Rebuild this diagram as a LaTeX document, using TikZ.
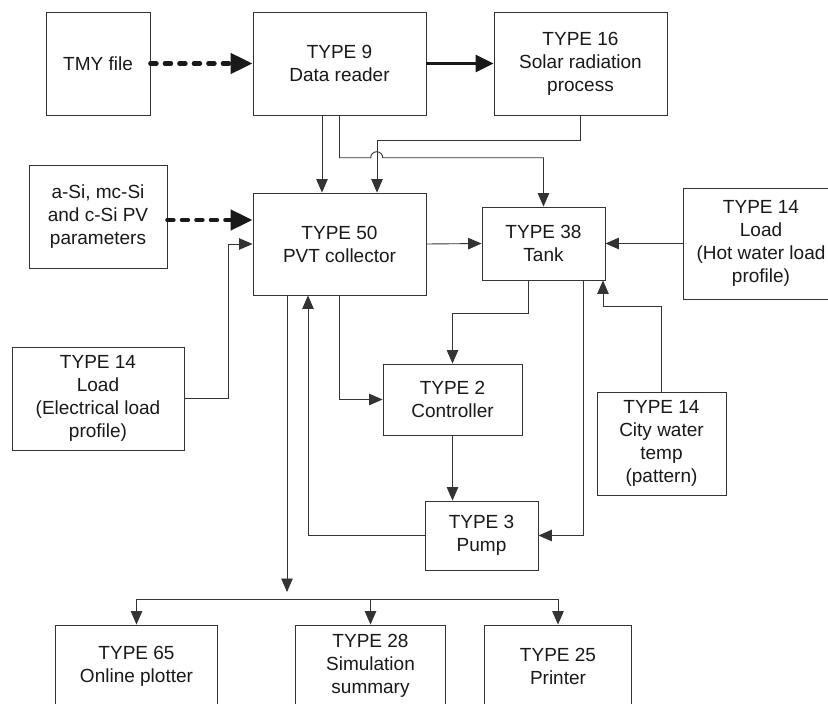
\documentclass[tikz,border=0pt]{standalone}
\usepackage{fontspec}
\setmainfont{Liberation Sans}
\usetikzlibrary{arrows.meta,calc}
\definecolor{ln}{rgb}{0.2,0.2,0.2}
\tikzset{
  box/.style={draw=ln, line width=0.9pt, inner sep=0pt, align=center,
    font=\fontsize{19}{23}\selectfont, text=black!90},
  conn/.style={draw=ln, line width=0.9pt, -{Triangle[length=13.5pt,width=11.5pt]}},
  plain/.style={draw=ln, line width=0.9pt},
  dotarrow/.style={draw=black!90, line width=4.5pt, line cap=round,
    dash pattern=on 6pt off 8.5pt,
    -{Triangle[length=22pt,width=20pt,line cap=butt]}},
  thickarrow/.style={draw=black!90, line width=2.6pt,
    -{Triangle[length=18pt,width=17pt]}}
}
\begin{document}
\begin{tikzpicture}[x=1pt,y=-1pt]
\fill[white] (0,0) rectangle (828,704);
\useasboundingbox (0,0) rectangle (828,704);

\node[box, minimum width=104pt, minimum height=103pt] (tmy) at (98,63.5) {TMY file};
\node[box, minimum width=173pt, minimum height=103pt] (t9) at (339.5,63.5) {TYPE 9\\Data reader};
\node[box, minimum width=173pt, minimum height=103pt] (t16) at (580.5,63.5) {TYPE 16\\Solar radiation\\process};
\node[box, minimum width=138pt, minimum height=103pt] (asi) at (98,216.5) {a-Si, mc-Si\\and c-Si PV\\parameters};
\node[box, minimum width=173pt, minimum height=102pt] (t50) at (339.5,244) {TYPE 50\\PVT collector};
\node[box, minimum width=123pt, minimum height=73pt] (t38) at (543.5,243.5) {TYPE 38\\Tank};
\node[box, minimum width=156pt, minimum height=111pt] (t14h) at (761,243.5) {TYPE 14\\Load\\(Hot water load\\profile)};
\node[box, minimum width=172pt, minimum height=103pt] (t14e) at (98,398.5) {TYPE 14\\Load\\(Electrical load\\profile)};
\node[box, minimum width=139pt, minimum height=71pt] (t2) at (452.5,399.5) {TYPE 2\\Controller};
\node[box, minimum width=129pt, minimum height=103pt] (t14c) at (661.5,443.5) {TYPE 14\\City water\\temp\\(pattern)};
\node[box, minimum width=113pt, minimum height=69pt] (pump) at (481.5,535.5) {TYPE 3\\Pump};
\node[box, minimum width=162pt, minimum height=82pt] (b65) at (136.5,666) {TYPE 65\\Online plotter};
\node[box, minimum width=150pt, minimum height=82pt] (b28) at (370.5,666) {TYPE 28\\Simulation\\summary};
\node[box, minimum width=147pt, minimum height=82pt] (b25) at (558,666) {TYPE 25\\Printer};

% top dotted / thick arrows
\draw[dotarrow] (tmy.east) -- (t9.west);
\draw[thickarrow] (t9.east) -- (t16.west);
\draw[dotarrow] ($(asi.east)+(0,3.5)$) -- ($(t50.west)+(0,-24)$);

% Type 9 -> Type 50
\draw[conn] ($(t9.south)+(-17.5,0)$) -- ($(t50.north)+(-17.5,0)$);
% Type 16 -> Type 50
\draw[conn] (t16.south) -- ++(0,25) -| ($(t50.north)+(37.5,0)$);
% Type 9 -> Type 38 with hop
\coordinate (hopL) at (370.7,157.7);
\draw[conn] (t9.south) |- (hopL) arc[start angle=180, end angle=0, radius=6pt] -| (t38.north);

% electrical load -> Type 50
\draw[conn] (t14e.east) -- ++(44,0) |- (t50.west);
% Type 50 -> Type 38
\draw[conn] (t50.east) -- (t38.west);
% hot water load -> Type 38
\draw[conn] (t14h.west) -- (t38.east);
% Type 50 -> Type 2
\draw[conn] (t50.south) |- (t2.west);
% Type 38 -> Type 2
\draw[conn] ($(t38.south)+(-15.5,0)$) -- ++(0,33) -| (t2.north);
% Type 38 -> pump
\draw[conn] ($(t38.south)+(39.5,0)$) |- (pump.east);
% city water -> Type 38
\draw[conn] (t14c.north) -- ++(0,-85.5) -| ($(t38.south)+(59.5,0)$);
% Type 2 -> pump
\draw[conn] (t2.south) -- (t2.south |- pump.north);
% pump -> Type 50
\draw[conn] (pump.west) -| ($(t50.south)+(-31.5,0)$);
% Type 50 -> outputs
\coordinate (outEnd) at (287,592);
\draw[conn] ($(t50.south)+(-52.5,0)$) -- (outEnd);
\coordinate (busL) at (136.5,599);
\coordinate (busR) at (558,599);
\draw[plain] (busL) -- (busR);
\draw[conn] (busL) -- (b65.north);
\draw[conn] (b28.north |- busL) -- (b28.north);
\draw[conn] (busR) -- (b25.north);
\end{tikzpicture}
\end{document}
